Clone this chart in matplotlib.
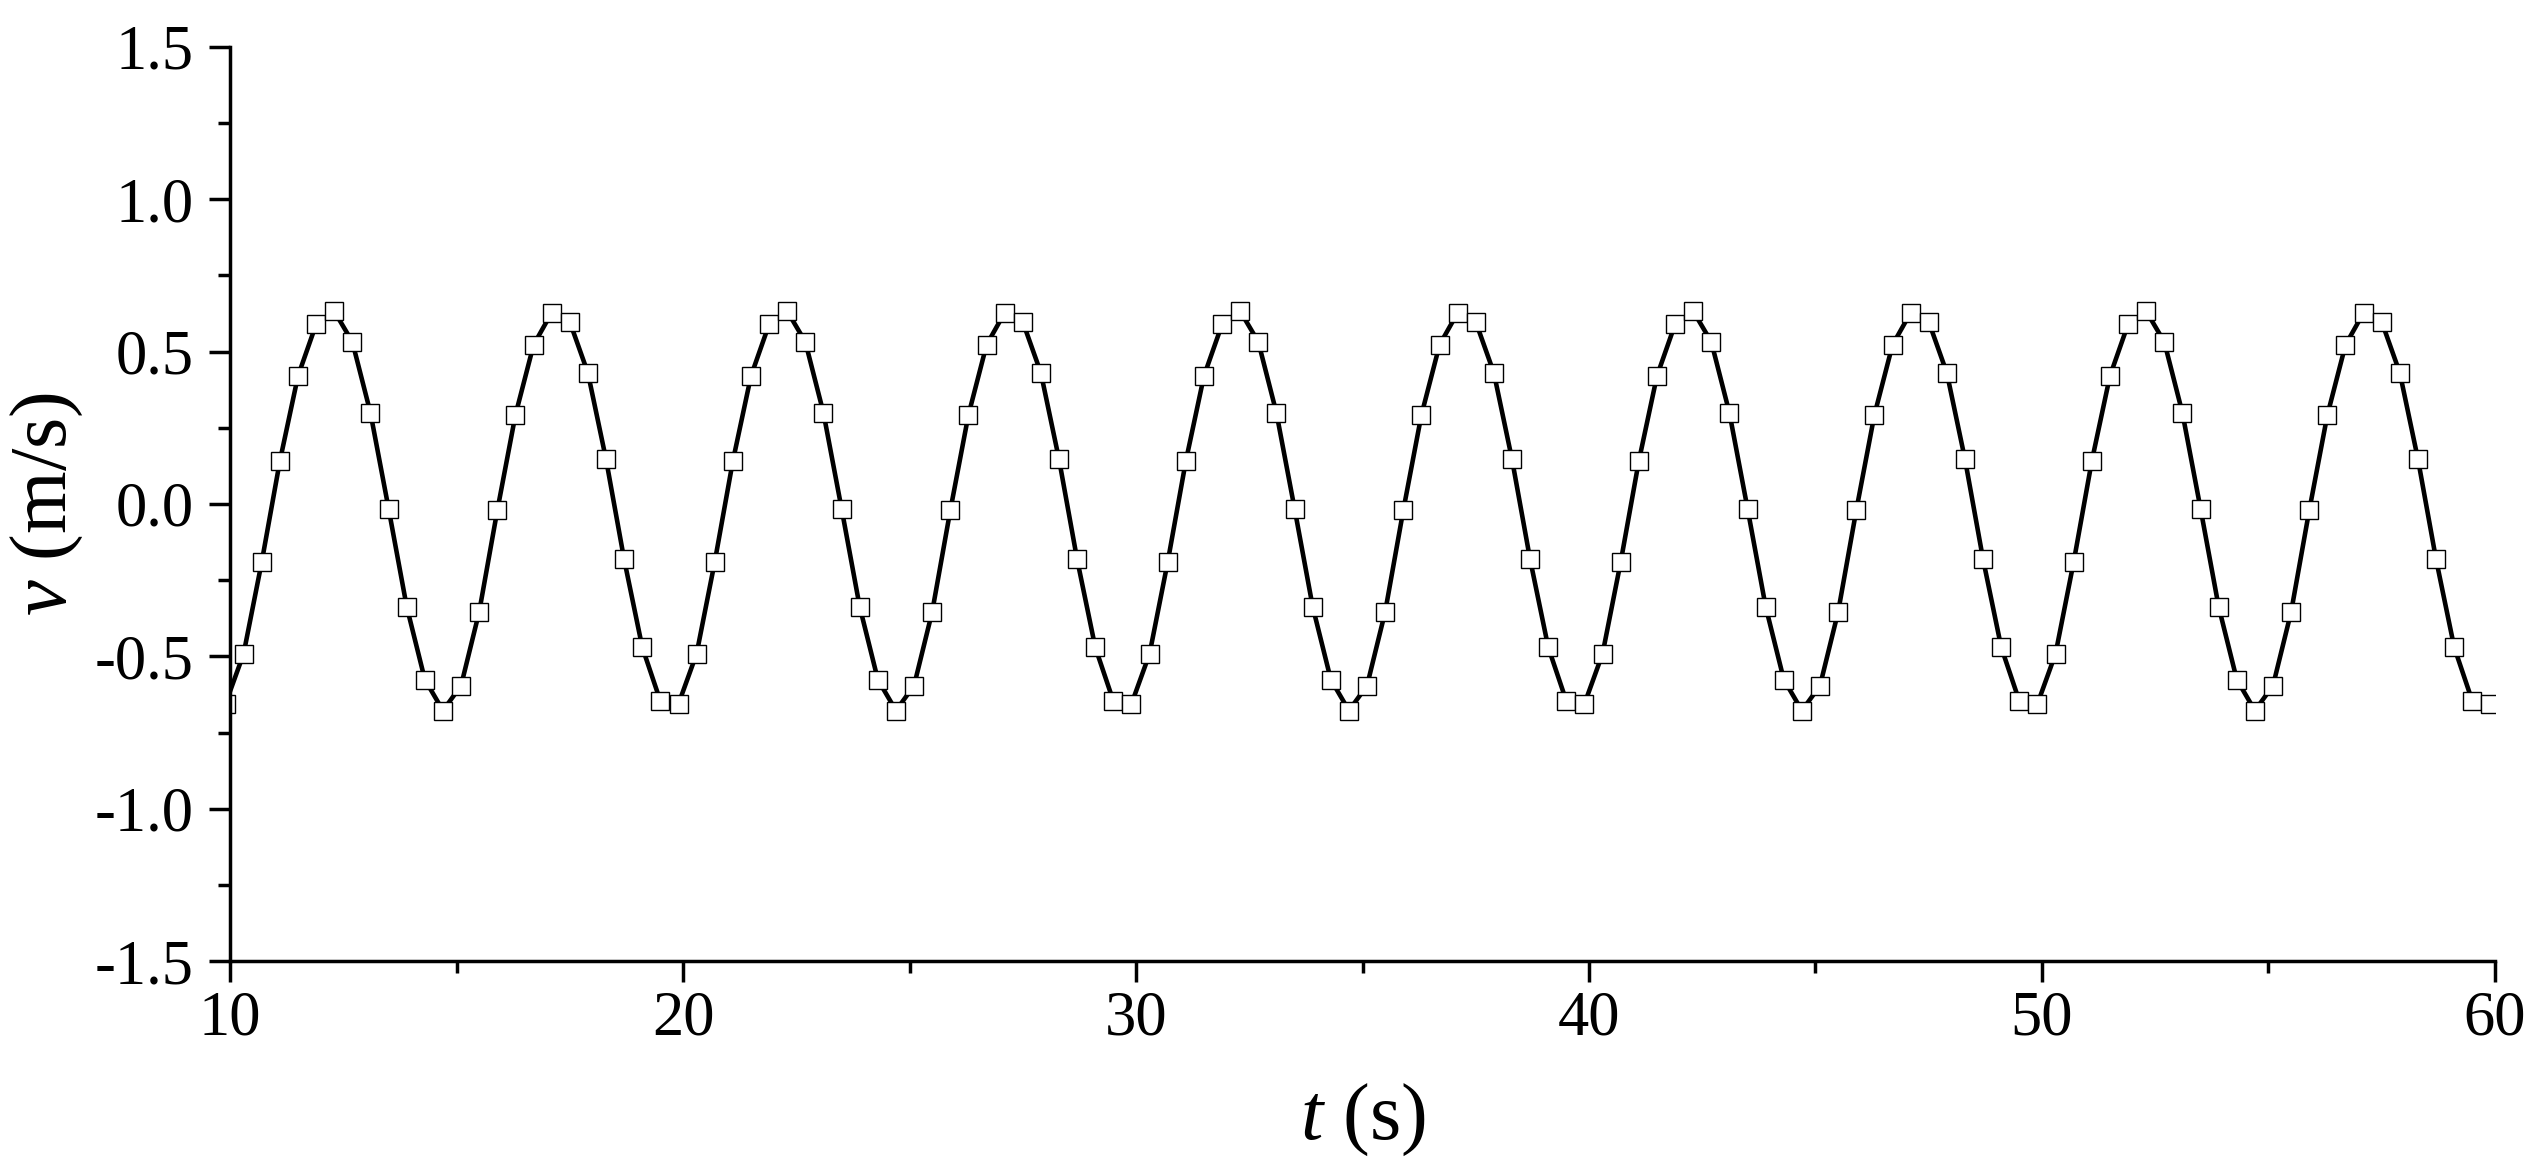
import numpy as np
import matplotlib
matplotlib.use('Agg')
import matplotlib.pyplot as plt
from matplotlib.ticker import MultipleLocator

plt.rcParams['font.family'] = 'Liberation Serif'
plt.rcParams['mathtext.fontset'] = 'custom'
plt.rcParams['mathtext.rm'] = 'Liberation Serif'
plt.rcParams['mathtext.it'] = 'Liberation Serif:italic'
plt.rcParams['axes.unicode_minus'] = False

# sample times (s), one row per 10 s
time_s = [
    9.9, 10.3, 10.7, 11.1, 11.5, 11.9, 12.3, 12.7, 13.1, 13.5, 13.9, 14.3, 14.7,
    15.1, 15.5, 15.9, 16.3, 16.7, 17.1, 17.5, 17.9, 18.3, 18.7, 19.1, 19.5,
    19.9, 20.3, 20.7, 21.1, 21.5, 21.9, 22.3, 22.7, 23.1, 23.5, 23.9, 24.3, 24.7,
    25.1, 25.5, 25.9, 26.3, 26.7, 27.1, 27.5, 27.9, 28.3, 28.7, 29.1, 29.5,
    29.9, 30.3, 30.7, 31.1, 31.5, 31.9, 32.3, 32.7, 33.1, 33.5, 33.9, 34.3, 34.7,
    35.1, 35.5, 35.9, 36.3, 36.7, 37.1, 37.5, 37.9, 38.3, 38.7, 39.1, 39.5,
    39.9, 40.3, 40.7, 41.1, 41.5, 41.9, 42.3, 42.7, 43.1, 43.5, 43.9, 44.3, 44.7,
    45.1, 45.5, 45.9, 46.3, 46.7, 47.1, 47.5, 47.9, 48.3, 48.7, 49.1, 49.5,
    49.9, 50.3, 50.7, 51.1, 51.5, 51.9, 52.3, 52.7, 53.1, 53.5, 53.9, 54.3, 54.7,
    55.1, 55.5, 55.9, 56.3, 56.7, 57.1, 57.5, 57.9, 58.3, 58.7, 59.1, 59.5,
    59.9,
]

# velocity (m/s)
velocity = [
    -0.656, -0.491, -0.190, 0.141, 0.420, 0.590, 0.633, 0.532, 0.299, -0.015, -0.337, -0.576, -0.678,
    -0.596, -0.354, -0.021, 0.292, 0.522, 0.628, 0.598, 0.430, 0.147, -0.182, -0.470, -0.647,
    -0.656, -0.491, -0.190, 0.141, 0.420, 0.590, 0.633, 0.532, 0.299, -0.015, -0.337, -0.576, -0.678,
    -0.596, -0.354, -0.021, 0.292, 0.522, 0.628, 0.598, 0.430, 0.147, -0.182, -0.470, -0.647,
    -0.656, -0.491, -0.190, 0.141, 0.420, 0.590, 0.633, 0.532, 0.299, -0.015, -0.337, -0.576, -0.678,
    -0.596, -0.354, -0.021, 0.292, 0.522, 0.628, 0.598, 0.430, 0.147, -0.182, -0.470, -0.647,
    -0.656, -0.491, -0.190, 0.141, 0.420, 0.590, 0.633, 0.532, 0.299, -0.015, -0.337, -0.576, -0.678,
    -0.596, -0.354, -0.021, 0.292, 0.522, 0.628, 0.598, 0.430, 0.147, -0.182, -0.470, -0.647,
    -0.656, -0.491, -0.190, 0.141, 0.420, 0.590, 0.633, 0.532, 0.299, -0.015, -0.337, -0.576, -0.678,
    -0.596, -0.354, -0.021, 0.292, 0.522, 0.628, 0.598, 0.430, 0.147, -0.182, -0.470, -0.647,
    -0.656,
]

fig = plt.figure(figsize=(25.42, 11.71), dpi=100)
ax = fig.add_axes([0.0905, 0.1793, 0.891, 0.7806])

ax.plot(time_s, velocity, color='black', linewidth=3.3,
        marker='s', markersize=12.5, markerfacecolor='white',
        markeredgecolor='black', markeredgewidth=1.0)

ax.set_xlim(10, 60)
ax.set_ylim(-1.5, 1.5)
ax.xaxis.set_major_locator(MultipleLocator(10))
ax.xaxis.set_minor_locator(MultipleLocator(5))
ax.yaxis.set_major_locator(MultipleLocator(0.5))
ax.yaxis.set_minor_locator(MultipleLocator(0.25))
ax.yaxis.set_major_formatter(plt.FormatStrFormatter('%.1f'))

for side in ['top', 'right']:
    ax.spines[side].set_visible(False)
for side in ['left', 'bottom']:
    ax.spines[side].set_linewidth(2.5)

ax.tick_params(which='major', direction='out', length=15, width=2.5, labelsize=45)
ax.tick_params(which='minor', direction='out', length=8.5, width=2.5)
ax.tick_params(axis='x', which='major', pad=6)
ax.tick_params(axis='y', which='major', pad=11)

ax.set_xlabel('$t$ (s)', fontsize=58, labelpad=24)
ax.set_ylabel('$v$ (m/s)', fontsize=58, labelpad=7)

fig.savefig('out.png', dpi=100)
